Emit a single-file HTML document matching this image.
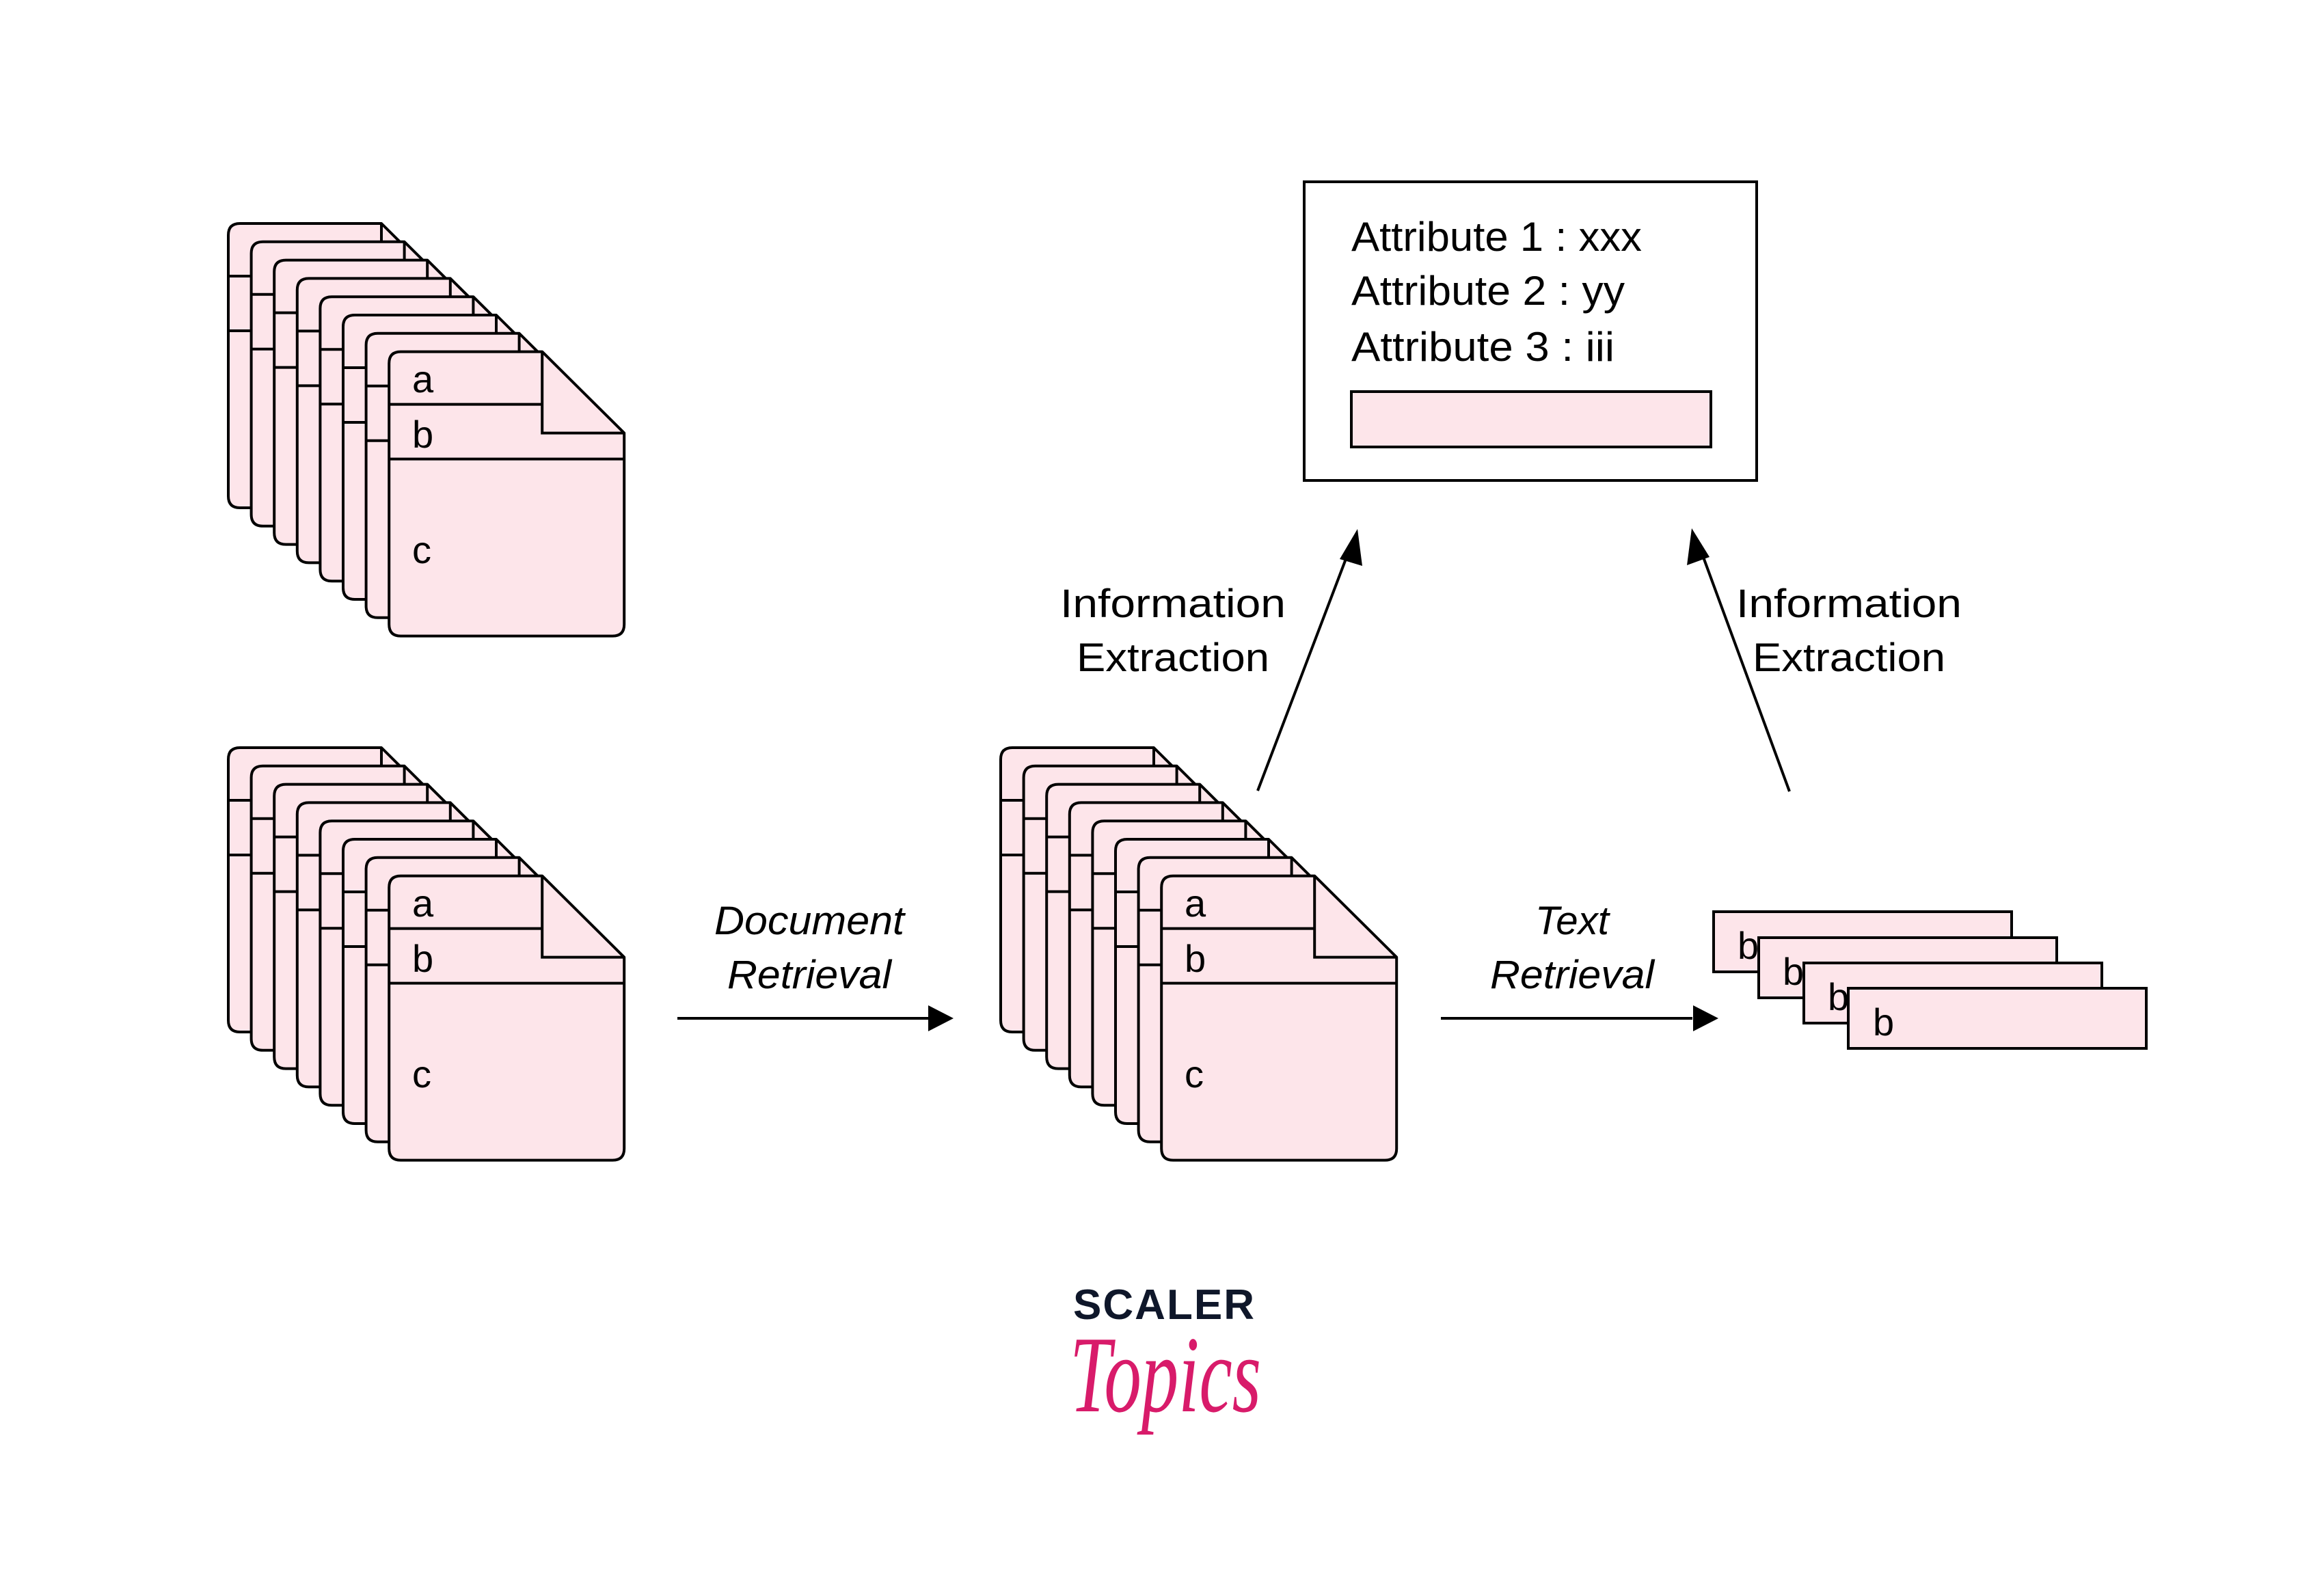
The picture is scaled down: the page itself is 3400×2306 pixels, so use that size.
<!DOCTYPE html>
<html><head><meta charset="utf-8"><style>
html,body{margin:0;padding:0;background:#fff;}
svg{display:block;}
</style></head><body>
<svg width="3400" height="2306" viewBox="0 0 3400 2306" xmlns="http://www.w3.org/2000/svg">
<defs>
<g id="pg">
<path d="M17,0 H224 L344,119 V399 Q344,416 327,416 H17 Q0,416 0,399 V17 Q0,0 17,0 Z" fill="#fde5ea" stroke="#000" stroke-width="4" stroke-linejoin="round"/>
<path d="M224,0 V119 H344 M0,77 H224 M0,157 H344" fill="none" stroke="#000" stroke-width="4"/>
</g>
<g id="stack">
<use href="#pg" x="0" y="0"/>
<use href="#pg" x="33.6" y="26.8"/>
<use href="#pg" x="67.2" y="53.6"/>
<use href="#pg" x="100.8" y="80.4"/>
<use href="#pg" x="134.4" y="107.2"/>
<use href="#pg" x="168" y="134"/>
<use href="#pg" x="201.6" y="160.8"/>
<use href="#pg" x="235.2" y="187.6"/>
<g font-family="Liberation Sans, sans-serif" font-size="56" fill="#000">
<text x="269" y="247">a</text>
<text x="269" y="328">b</text>
<text x="269" y="497">c</text>
</g>
</g>
</defs>

<use href="#stack" x="334" y="327"/>
<use href="#stack" x="334" y="1094"/>
<use href="#stack" x="1464" y="1094"/>

<!-- attribute box -->
<rect x="1908" y="266" width="662" height="437" fill="#fff" stroke="#000" stroke-width="4"/>
<g font-family="Liberation Sans, sans-serif" font-size="60" fill="#000">
<text x="1977" y="367" textLength="425" lengthAdjust="spacingAndGlyphs">Attribute 1 : xxx</text>
<text x="1977" y="446" textLength="400" lengthAdjust="spacingAndGlyphs">Attribute 2 : yy</text>
<text x="1977" y="528" textLength="385" lengthAdjust="spacingAndGlyphs">Attribute 3 : iii</text>
</g>
<rect x="1977" y="573" width="526" height="81" fill="#fde5ea" stroke="#000" stroke-width="4"/>

<!-- arrows -->
<g stroke="#000" stroke-width="4" fill="none">
<line x1="1840" y1="1157" x2="1972" y2="810"/>
<line x1="2618" y1="1158" x2="2490" y2="810"/>
<line x1="991" y1="1490" x2="1360" y2="1490"/>
<line x1="2108" y1="1490" x2="2476" y2="1490"/>
</g>
<g fill="#000">
<polygon points="1986,774 1960,818 1993,828"/>
<polygon points="2475,773 2468,827 2501,815"/>
<polygon points="1395,1490 1358,1471 1358,1509"/>
<polygon points="2514,1490 2477,1471 2477,1509"/>
</g>

<g font-family="Liberation Sans, sans-serif" font-size="58" fill="#000" text-anchor="middle">
<text x="1716" y="903" textLength="330" lengthAdjust="spacingAndGlyphs">Information</text>
<text x="1716" y="982" textLength="282" lengthAdjust="spacingAndGlyphs">Extraction</text>
<text x="2705" y="903" textLength="330" lengthAdjust="spacingAndGlyphs">Information</text>
<text x="2705" y="982" textLength="282" lengthAdjust="spacingAndGlyphs">Extraction</text>
</g>
<g font-family="Liberation Sans, sans-serif" font-size="58" font-style="italic" fill="#000" text-anchor="middle">
<text x="1184" y="1367" textLength="278" lengthAdjust="spacingAndGlyphs">Document</text>
<text x="1184" y="1446" textLength="240" lengthAdjust="spacingAndGlyphs">Retrieval</text>
<text x="2300" y="1367" textLength="108" lengthAdjust="spacingAndGlyphs">Text</text>
<text x="2300" y="1446" textLength="240" lengthAdjust="spacingAndGlyphs">Retrieval</text>
</g>

<!-- b cards -->
<g font-family="Liberation Sans, sans-serif" font-size="56" fill="#000">
<rect x="2507" y="1334" width="436" height="88" fill="#fde5ea" stroke="#000" stroke-width="4"/>
<text x="2542" y="1403">b</text>
<rect x="2573" y="1372" width="436" height="88" fill="#fde5ea" stroke="#000" stroke-width="4"/>
<text x="2608" y="1441">b</text>
<rect x="2639" y="1409" width="436" height="88" fill="#fde5ea" stroke="#000" stroke-width="4"/>
<text x="2674" y="1478">b</text>
<rect x="2704" y="1446" width="436" height="88" fill="#fde5ea" stroke="#000" stroke-width="4"/>
<text x="2740" y="1515">b</text>
</g>

<!-- logo -->
<text x="1570" y="1930" font-family="Liberation Sans, sans-serif" font-weight="bold" font-size="62" fill="#0f172a" textLength="265" lengthAdjust="spacing">SCALER</text>
<text x="1565" y="2065" font-family="Liberation Serif, serif" font-style="italic" font-size="160" fill="#d81b6a" textLength="280" lengthAdjust="spacingAndGlyphs">Topics</text>
</svg>
</body></html>
